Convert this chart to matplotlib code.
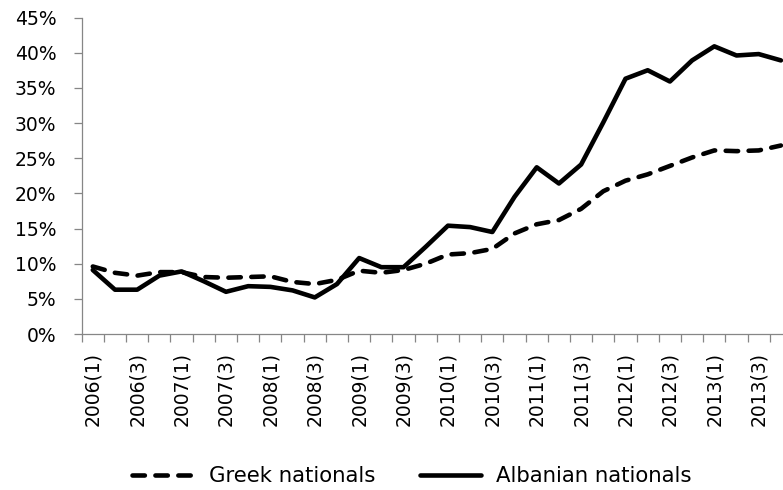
import matplotlib
matplotlib.use('Agg')
import matplotlib.pyplot as plt
import numpy as np

# Quarterly categories 2006(1) .. 2013(4)
quarters = [f"{y}({q})" for y in range(2006, 2014) for q in range(1, 5)]

greek = [9.6, 8.7, 8.3, 8.8, 8.8, 8.1, 8.0, 8.1, 8.2, 7.4, 7.1, 7.7,
         9.0, 8.7, 9.1, 10.0, 11.3, 11.5, 12.1, 14.3, 15.6, 16.2, 17.8, 20.3,
         21.8, 22.7, 23.9, 25.1, 26.1, 26.0, 26.1, 26.8]
albanian = [9.1, 6.3, 6.3, 8.3, 8.9, 7.5, 6.0, 6.8, 6.7, 6.2, 5.2, 7.1,
            10.8, 9.5, 9.5, 12.4, 15.4, 15.2, 14.5, 19.5, 23.7, 21.4, 24.1, 30.1,
            36.3, 37.5, 35.9, 38.9, 40.9, 39.6, 39.8, 38.9]

AXIS_GRAY = '#868686'
LW = 3.3

plt.rcParams['font.family'] = ['DejaVu Sans']

fig = plt.figure(figsize=(7.83, 4.90), dpi=100)
# plot area runs slightly past the right edge, as in the reference (cropped)
ax = fig.add_axes([81.7 / 783, 156 / 490, 710.3 / 783, 316.5 / 490])

x = np.arange(len(quarters))
g_vals = np.array(greek) / 100
a_vals = np.array(albanian) / 100

ax.plot(x, g_vals, color='black', linewidth=LW, linestyle=(0, (2.7, 2.3)),
        dash_capstyle='round', solid_joinstyle='round', label='Greek nationals')
ax.plot(x, a_vals, color='black', linewidth=LW, solid_capstyle='round',
        solid_joinstyle='round', label='Albanian nationals')

ax.set_xlim(-0.5, len(quarters) - 0.5)
ax.set_ylim(0, 0.45)

# y axis
ax.set_yticks(np.arange(0, 0.451, 0.05))
ax.set_yticklabels([f"{int(round(v * 100))}%" for v in np.arange(0, 0.451, 0.05)])
ax.tick_params(axis='y', direction='out', length=5.6, width=0.9, color=AXIS_GRAY,
               labelsize=13.5, labelcolor='black', pad=12.5)

# x axis: labels on every second quarter, tick marks between categories
ax.set_xticks(x[::2])
ax.set_xticklabels(quarters[::2], rotation=90, va='top', ha='center')
ax.set_xticks(np.arange(-0.5, len(quarters), 1), minor=True)
ax.tick_params(axis='x', which='major', length=0, labelsize=13.5, pad=13)
ax.tick_params(axis='x', which='minor', direction='out', length=5.8, width=0.9,
               color=AXIS_GRAY)

for side in ['top', 'right']:
    ax.spines[side].set_visible(False)
for side in ['left', 'bottom']:
    ax.spines[side].set_color(AXIS_GRAY)
    ax.spines[side].set_linewidth(0.9)

fig.legend(loc='center', bbox_to_anchor=(412 / 783, 14 / 490), ncol=2,
           frameon=False, fontsize=15.3, handlelength=2.9, handletextpad=0.7,
           columnspacing=2.1)

fig.savefig('out.png', dpi=100, facecolor='white')
